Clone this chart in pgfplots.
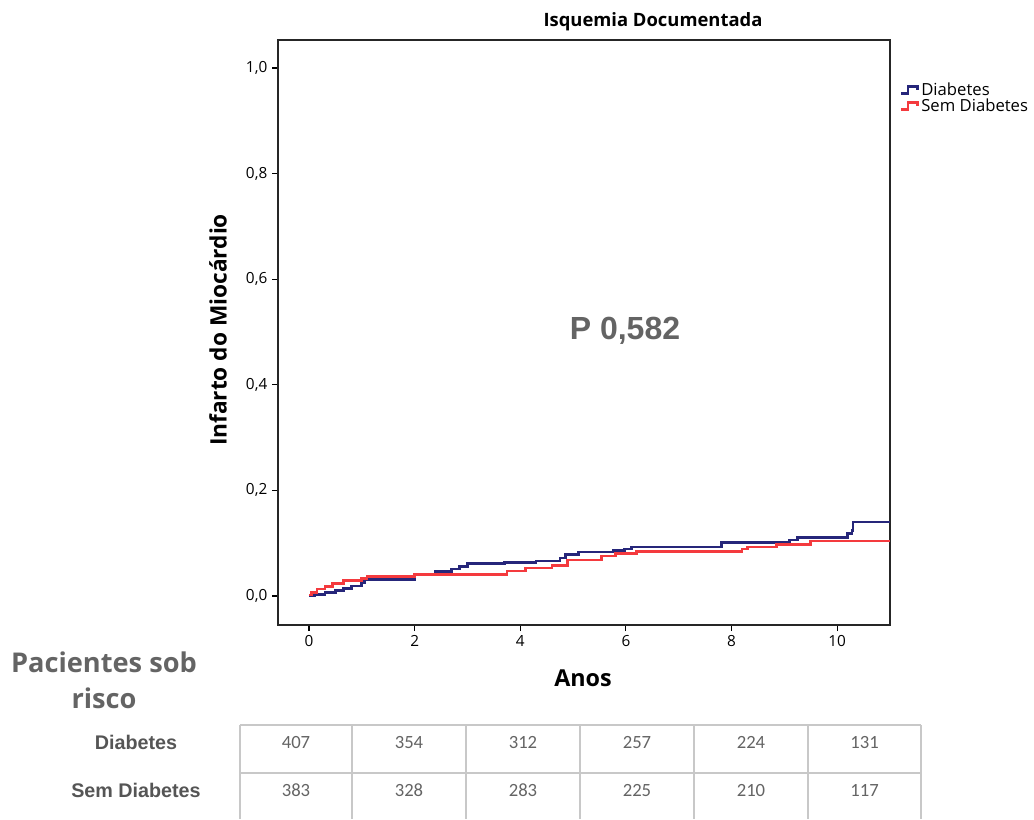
\documentclass[border=0pt]{standalone}
\usepackage{fontspec}
\setmainfont{Open Sans}
\newfontfamily\arialf{Liberation Sans}
\newfontfamily\calib{Carlito}
\usepackage{pgfplots}
\pgfplotsset{compat=1.18}
\definecolor{kmblue}{RGB}{38,38,122}
\definecolor{kmred}{RGB}{244,58,62}
\definecolor{txtgray}{RGB}{100,100,100}
\definecolor{lblgray}{RGB}{85,85,85}
\definecolor{gridgray}{RGB}{200,200,200}

\begin{document}
\begin{tikzpicture}
\begin{scope}[x=0.75pt,y=-0.75pt]
\useasboundingbox (0,0) rectangle (1034,819);
\end{scope}
\begin{axis}[
  at={(208.5pt,-468.75pt)}, anchor=south west,
  scale only axis, width=459pt, height=438.75pt,
  xmin=-0.587, xmax=11.0, ymin=-0.055, ymax=1.053,
  xtick={0,2,4,6,8,10},
  ytick={0,0.2,0.4,0.6,0.8,1.0},
  tick align=outside, tick pos=left,
  major tick length=4.5pt,
  every tick/.style={black, line width=0.8pt},
  axis line style={line width=1pt, color=black!85},
  ticklabel style={font=\fontsize{11.5}{13}\selectfont},
  /pgf/number format/assume math mode=true,
  yticklabel style={/pgf/number format/.cd, fixed, fixed zerofill, precision=1, use comma},
  legend style={at={(1.016,0.932)}, anchor=north west, draw=none, fill=none,
    font=\fontsize{12.5}{14}\selectfont, row sep=-3pt, inner sep=0pt},
  legend cell align=left,
  legend image code/.code={\draw[#1] (0cm,-0.09cm) -- (0.17cm,-0.09cm) -- (0.17cm,0.09cm) -- (0.42cm,0.09cm) -- (0.42cm,0.0cm);},
]
\addplot[const plot, color=kmblue, line width=2pt] coordinates {
(0,0.0) (0.1,0.003) (0.3,0.006) (0.5,0.010) (0.65,0.014) (0.8,0.019) (1.0,0.026) (1.05,0.031)
(2.0,0.040) (2.4,0.046) (2.7,0.051) (2.85,0.056) (3.0,0.062) (3.7,0.064) (4.3,0.066)
(4.75,0.072) (4.85,0.078) (5.1,0.083) (5.76,0.086) (5.97,0.089) (6.1,0.093) (7.81,0.101)
(9.1,0.106) (9.25,0.111) (10.2,0.118) (10.28,0.124) (10.3,0.140) (11,0.140)};
\addlegendentry{Diabetes}
\addplot[const plot, color=kmred, line width=2pt] coordinates {
(0,0.002) (0.05,0.007) (0.15,0.013) (0.3,0.018) (0.45,0.024) (0.65,0.029) (1.0,0.033)
(1.1,0.037) (2.0,0.041) (3.75,0.047) (4.1,0.053) (4.6,0.058) (4.9,0.068) (5.54,0.076)
(5.8,0.081) (6.2,0.084) (8.2,0.089) (8.3,0.093) (8.85,0.098) (9.5,0.104) (11,0.104)};
\addlegendentry{Sem Diabetes}
\end{axis}
\begin{scope}[x=0.75pt,y=-0.75pt]
\node[font=\bfseries\fontsize{13.8}{16}\selectfont] at (653,22) {Isquemia Documentada};
\node[font=\bfseries\fontsize{17.5}{20}\selectfont] at (583,678) {Anos};
\node[font=\bfseries\fontsize{17}{20}\selectfont, rotate=90] at (218,330) {Infarto do Miocárdio};
\node[font=\arialf\bfseries\fontsize{24}{28}\selectfont, text=txtgray] at (625,331) {P 0,582};
\node[font=\bfseries\fontsize{20.4}{24}\selectfont, text=txtgray] at (104,662) {Pacientes sob};
\node[font=\bfseries\fontsize{20.4}{24}\selectfont, text=txtgray] at (104,698) {risco};
\node[font=\arialf\bfseries\fontsize{14.8}{17}\selectfont, text=lblgray] at (136,742) {Diabetes};
\node[font=\arialf\bfseries\fontsize{14.8}{17}\selectfont, text=lblgray] at (136,790) {Sem Diabetes};
\draw[gridgray, line width=1.1pt] (240,725) -- (921,725);
\draw[gridgray, line width=1.1pt] (240,773) -- (921,773);
\foreach \xx in {240,352,466,580,694,808,921} {\draw[gridgray, line width=1.1pt] (\xx,725) -- (\xx,819);}
\foreach \xx/\a/\b in {296/407/383, 409/354/328, 523/312/283, 637/257/225, 751/224/210, 864.5/131/117} {
  \node[font=\calib\fontsize{14}{16}\selectfont, text=txtgray] at (\xx,742) {\a};
  \node[font=\calib\fontsize{14}{16}\selectfont, text=txtgray] at (\xx,790) {\b};
}
\end{scope}
\end{tikzpicture}
\end{document}
